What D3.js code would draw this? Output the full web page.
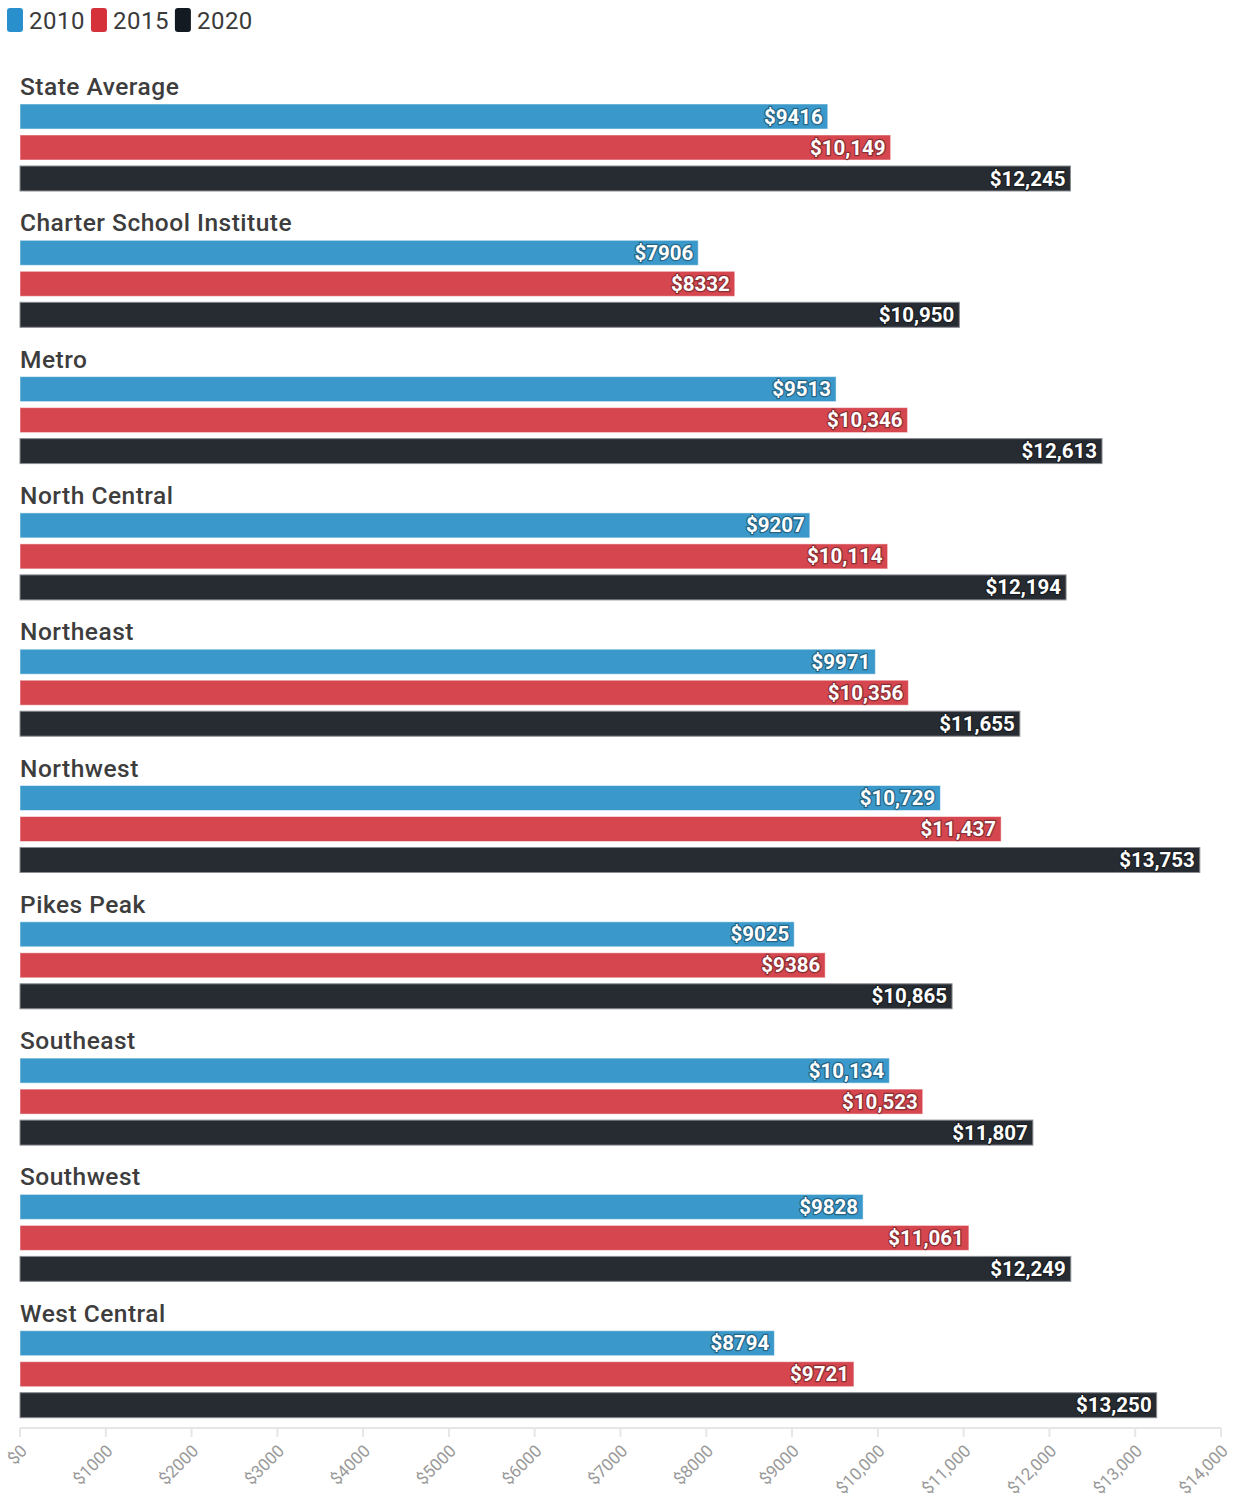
<!DOCTYPE html>
<html>
<head>
<meta charset="utf-8">
<script src="https://cdn.jsdelivr.net/npm/d3@7"></script>
<style>
  html, body { margin: 0; padding: 0; background: #fff; }
  body { font-family: Roboto, "Noto Sans", sans-serif; }
</style>
</head>
<body>
<div id="chart"></div>
<script>
const regions = ['State Average', 'Charter School Institute', 'Metro', 'North Central', 'Northeast',
  'Northwest', 'Pikes Peak', 'Southeast', 'Southwest', 'West Central'];
const years = ['2010', '2015', '2020'];
const spend2010 = [9416, 7906, 9513, 9207, 9971, 10729, 9025, 10134, 9828, 8794];
const spend2015 = [10149, 8332, 10346, 10114, 10356, 11437, 9386, 10523, 11061, 9721];
const spend2020 = [12245, 10950, 12613, 12194, 11655, 13753, 10865, 11807, 12249, 13250];
const xTicks = [0, 1000, 2000, 3000, 4000, 5000, 6000, 7000, 8000, 9000, 10000, 11000, 12000, 13000, 14000];

const barColors = { '2010': '#3a99ca', '2015': '#d5464e', '2020': '#272c33' };
const legendColors = { '2010': '#2a8fcd', '2015': '#d5313a', '2020': '#131a22' };

const W = 1239, H = 1500;
const svg = d3.select('#chart').append('svg').attr('width', W).attr('height', H);

const rows = regions.map((name, i) => ({
  name, values: [spend2010[i], spend2015[i], spend2020[i]].map((v, j) => ({ year: years[j], v }))
}));

const x = d3.scaleLinear().domain([0, 14000]).range([20, 1221]);
const yGroup = d3.scaleBand().domain(regions).range([70, 1433]);
const ySeries = d3.scaleBand().domain(years).range([34, 121]).paddingInner(6 / 31);

const fmt = v => v >= 10000 ? '$' + d3.format(',')(v) : '$' + v;

// legend
const leg = svg.append('g').attr('transform', 'translate(7,8)');
let lx = 0;
years.forEach(yr => {
  const g = leg.append('g').attr('transform', `translate(${lx},0)`);
  g.append('rect').attr('width', 16).attr('height', 24).attr('rx', 3).attr('fill', legendColors[yr]);
  const t = g.append('text').attr('x', 22).attr('y', 21).attr('font-size', 24)
    .attr('letter-spacing', 0.5).attr('fill', '#3a3a3a').text(yr);
  lx += 22 + t.node().getComputedTextLength() + 6;
});

// groups
const groups = svg.selectAll('g.grp').data(rows).join('g')
  .attr('class', 'grp')
  .attr('transform', d => `translate(0,${yGroup(d.name)})`);

groups.append('text')
  .attr('x', 20).attr('y', 25)
  .attr('font-size', 24.5).attr('font-weight', 500).attr('fill', '#3d3d3d')
  .attr('letter-spacing', 0.5)
  .text(d => d.name);

const bars = groups.selectAll('g.bar').data(d => d.values).join('g').attr('class', 'bar');

bars.append('rect')
  .attr('x', x(0))
  .attr('y', d => ySeries(d.year))
  .attr('width', d => x(d.v) - x(0))
  .attr('height', ySeries.bandwidth())
  .attr('fill', d => barColors[d.year])
  .attr('stroke', d => d.year === '2020' ? '#8a8d92' : 'rgba(255,255,255,0.5)')
  .attr('stroke-width', 1);

bars.append('text')
  .attr('x', d => x(d.v) - 5)
  .attr('y', d => ySeries(d.year) + ySeries.bandwidth() / 2 + 7)
  .attr('text-anchor', 'end')
  .attr('font-size', 20.5).attr('font-weight', 700)
  .attr('fill', '#fff')
  .attr('stroke', d => d3.color(barColors[d.year]).darker(1.2))
  .attr('stroke-width', 2.5).attr('paint-order', 'stroke')
  .attr('stroke-linejoin', 'round')
  .text(d => fmt(d.v));

// x axis
const axisY = 1428;
const axis = svg.append('g').attr('transform', `translate(0,${axisY})`);
axis.append('line').attr('x1', x(0)).attr('x2', x(14000)).attr('stroke', '#e6e6e6').attr('stroke-width', 2);
const tk = axis.selectAll('g.tick').data(xTicks).join('g').attr('class', 'tick')
  .attr('transform', d => `translate(${x(d)},0)`);
tk.append('line').attr('y1', 0).attr('y2', 9).attr('stroke', '#e6e6e6').attr('stroke-width', 2);
tk.append('text')
  .attr('transform', 'translate(8,24) rotate(-45)')
  .attr('text-anchor', 'end')
  .attr('font-size', 17).attr('fill', '#999')
  .text(d => fmt(d));
</script>
</body>
</html>
